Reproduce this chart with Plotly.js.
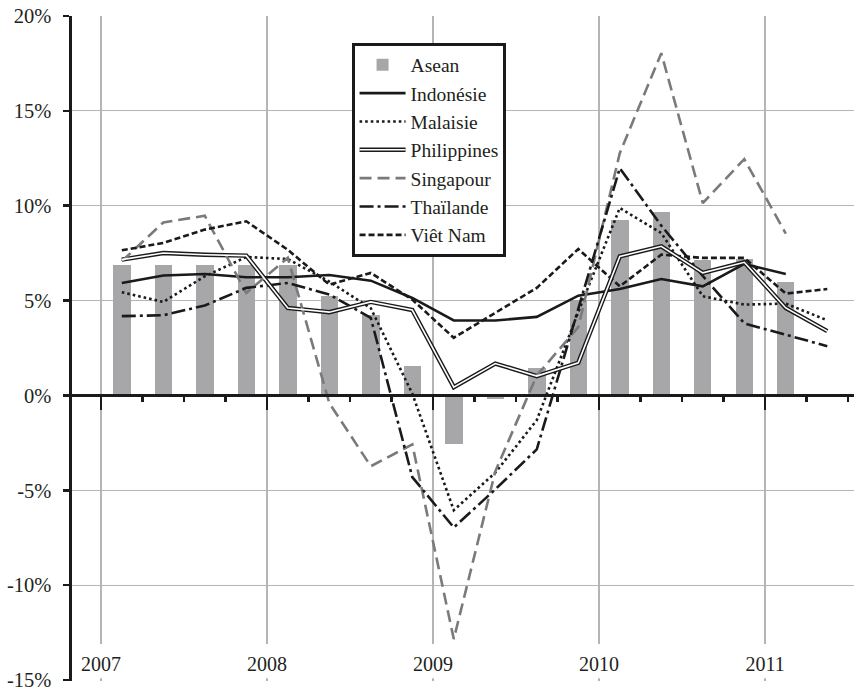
<!DOCTYPE html>
<html>
<head>
<meta charset="utf-8">
<script src="https://cdn.plot.ly/plotly-3.0.1.min.js"></script>
<style>html,body{margin:0;padding:0;background:#fff;}#chart{width:854px;height:690px;}</style>
</head>
<body>
<div id="chart"></div>
<script>
// Quarters (T = trimestre)
const quarters = ['2007-T1','2007-T2','2007-T3','2007-T4','2008-T1','2008-T2','2008-T3','2008-T4',
                  '2009-T1','2009-T2','2009-T3','2009-T4','2010-T1','2010-T2','2010-T3','2010-T4',
                  '2011-T1','2011-T2'];
// Year-on-year growth, %
const asean       = [6.85, 6.85, 6.85, 6.85, 6.85, 5.26, 4.26, 1.54, -2.55, -0.2, 1.45, 5.05, 9.26, 9.68, 7.16, 7.21, 5.96, null];
const indonesie   = [5.93, 6.32, 6.40, 6.23, 6.23, 6.35, 6.05, 5.14, 3.95, 3.95, 4.14, 5.26, 5.61, 6.14, 5.75, 6.93, 6.40, null];
const malaisie    = [5.44, 4.93, 6.28, 7.30, 7.19, 6.00, 4.60, 0.10, -6.05, -4.07, -1.30, 4.40, 9.88, 8.56, 5.23, 4.79, 4.84, 3.96];
const philippines = [7.16, 7.51, 7.42, 7.37, 4.61, 4.39, 4.93, 4.50, 0.44, 1.68, 1.02, 1.72, 7.33, 7.86, 6.46, 7.02, 4.61, 3.39];
const singapour   = [7.07, 9.12, 9.47, 5.40, 7.25, -0.40, -3.73, -2.58, -12.84, -4.00, 1.05, 3.60, 12.77, 18.04, 10.14, 12.46, 8.53, null];
const thailande   = [4.18, 4.23, 4.74, 5.67, 5.93, 5.32, 4.09, -4.30, -6.96, -4.95, -2.84, 4.60, 11.98, 8.95, 6.30, 3.80, 3.21, 2.60];
const vietnam     = [7.65, 8.04, 8.74, 9.18, 7.68, 5.84, 6.46, 5.05, 3.04, 4.35, 5.67, 7.72, 5.75, 7.42, 7.25, 7.25, 5.37, 5.61];

const yearTicks = [2007, 2008, 2009, 2010, 2011];
const yearLabels = ['2007', '2008', '2009', '2010', '2011'];
const yTicks = [-15, -10, -5, 0, 5, 10, 15, 20];
const yTickText = ['-15%', '-10%', '-5%', '0%', '5%', '10%', '15%', '20%'];

// quarter -> mid-quarter position on a decimal-year axis
const xq = quarters.map(q => +q.slice(0, 4) + (+q.slice(-1) - 0.5) / 4);

const yRange = [-15.05, 20];
const xRange = [2006.825, 2011.536];
const zeroPos = (0 - yRange[0]) / (yRange[1] - yRange[0]);

const FONT = 'Liberation Serif, Times New Roman, serif';
const BLACK = '#1a1a1a';
const LEG_FONT = 19.5;
const ROW_H = LEG_FONT * 1.3 + 3;
const PLOT_H = 690 - 16 - 9;
const LEG_Y = 0.9594;

const traces = [
  {type: 'bar', name: 'Asean', x: xq, y: asean, width: 0.105,
   marker: {color: '#a7a7a9'}, hoverinfo: 'skip'},
  {type: 'scatter', mode: 'lines', name: 'Indonésie', x: xq, y: indonesie,
   line: {color: BLACK, width: 2.6}},
  {type: 'scatter', mode: 'lines', name: 'Malaisie', x: xq, y: malaisie,
   line: {color: BLACK, width: 2.6, dash: '2.6px,3px'}},
  {type: 'scatter', mode: 'lines', name: 'Philippines', x: xq, y: philippines,
   line: {color: BLACK, width: 4.4}},
  {type: 'scatter', mode: 'lines', name: 'Singapour', x: xq, y: singapour,
   line: {color: '#7a7a7c', width: 2.6, dash: '12px,6px'}},
  {type: 'scatter', mode: 'lines', name: 'Thaïlande', x: xq, y: thailande,
   line: {color: BLACK, width: 2.6, dash: '14px,4px,3px,4px'}},
  {type: 'scatter', mode: 'lines', name: 'Viêt Nam', x: xq, y: vietnam,
   line: {color: BLACK, width: 2.6, dash: '6px,3px'}},
  // inner white stroke of the Philippines double line (on the overlaid x2 axis, same range)
  {type: 'scatter', mode: 'lines', name: 'Philippines', x: xq, y: philippines, xaxis: 'x2',
   line: {color: '#ffffff', width: 1.6}, legend: 'legend2', hoverinfo: 'skip'}
];

const layout = {
  width: 854, height: 690,
  margin: {l: 72, r: 0, t: 16, b: 9, pad: 0},
  paper_bgcolor: '#ffffff', plot_bgcolor: '#ffffff',
  font: {family: FONT, size: 20, color: '#231f20'},
  showlegend: true,
  bargap: 0,
  xaxis: {
    range: xRange, anchor: 'free', position: zeroPos,
    tickmode: 'linear', tick0: 2007, dtick: 1,
    showticklabels: false,
    ticks: 'outside', ticklen: 13, tickwidth: 2.6, tickcolor: BLACK,
    showline: true, linecolor: BLACK, linewidth: 2.6,
    showgrid: true, gridcolor: '#b4b4b4', gridwidth: 1.2,
    zeroline: false,
    minor: {tick0: 2007, dtick: 0.25, ticks: 'outside', ticklen: 5, tickwidth: 2.2, tickcolor: BLACK, showgrid: false}
  },
  // year labels, sitting just above the bottom of the plot
  xaxis2: {
    range: xRange, overlaying: 'x', anchor: 'free', position: 0.047, side: 'bottom',
    tickmode: 'array', tickvals: yearTicks, ticktext: yearLabels,
    ticks: '', showline: false, showgrid: false, zeroline: false,
    ticklabelstandoff: 0,
    tickfont: {family: FONT, size: 20, color: '#231f20'}
  },
  yaxis: {
    range: yRange,
    tickmode: 'array', tickvals: yTicks, ticktext: yTickText,
    ticks: 'outside', ticklen: 6, tickwidth: 2.6, tickcolor: BLACK,
    ticklabelstandoff: 8, ticklabeloverflow: 'allow',
    showline: true, linecolor: BLACK, linewidth: 2.6,
    showgrid: true, gridcolor: '#b4b4b4', gridwidth: 1.2,
    zeroline: false,
    tickfont: {family: FONT, size: 20.5, color: '#231f20'}
  },
  legend: {
    x: 0.358, y: LEG_Y, xanchor: 'left', yanchor: 'top',
    bgcolor: '#ffffff', bordercolor: BLACK, borderwidth: 2.6,
    font: {family: FONT, size: LEG_FONT, color: '#231f20'},
    itemwidth: 46, entrywidth: 108
  },
  legend2: {
    x: 0.358, y: LEG_Y - 3 * ROW_H / PLOT_H, xanchor: 'left', yanchor: 'top',
    bgcolor: 'rgba(0,0,0,0)', bordercolor: 'rgba(0,0,0,0)', borderwidth: 2.6,
    font: {family: FONT, size: LEG_FONT, color: 'rgba(0,0,0,0)'},
    itemwidth: 46, entrywidth: 108
  },
  shapes: [
    // gap under the vertical gridlines where the year labels sit
    {type: 'rect', xref: 'x', yref: 'y', x0: xRange[0], x1: xRange[1], y0: -14.9, y1: -13.1,
     fillcolor: '#ffffff', line: {width: 0}, layer: 'between'}
  ]
};

Plotly.newPlot('chart', traces, layout, {displayModeBar: false, staticPlot: true});
</script>
</body>
</html>
